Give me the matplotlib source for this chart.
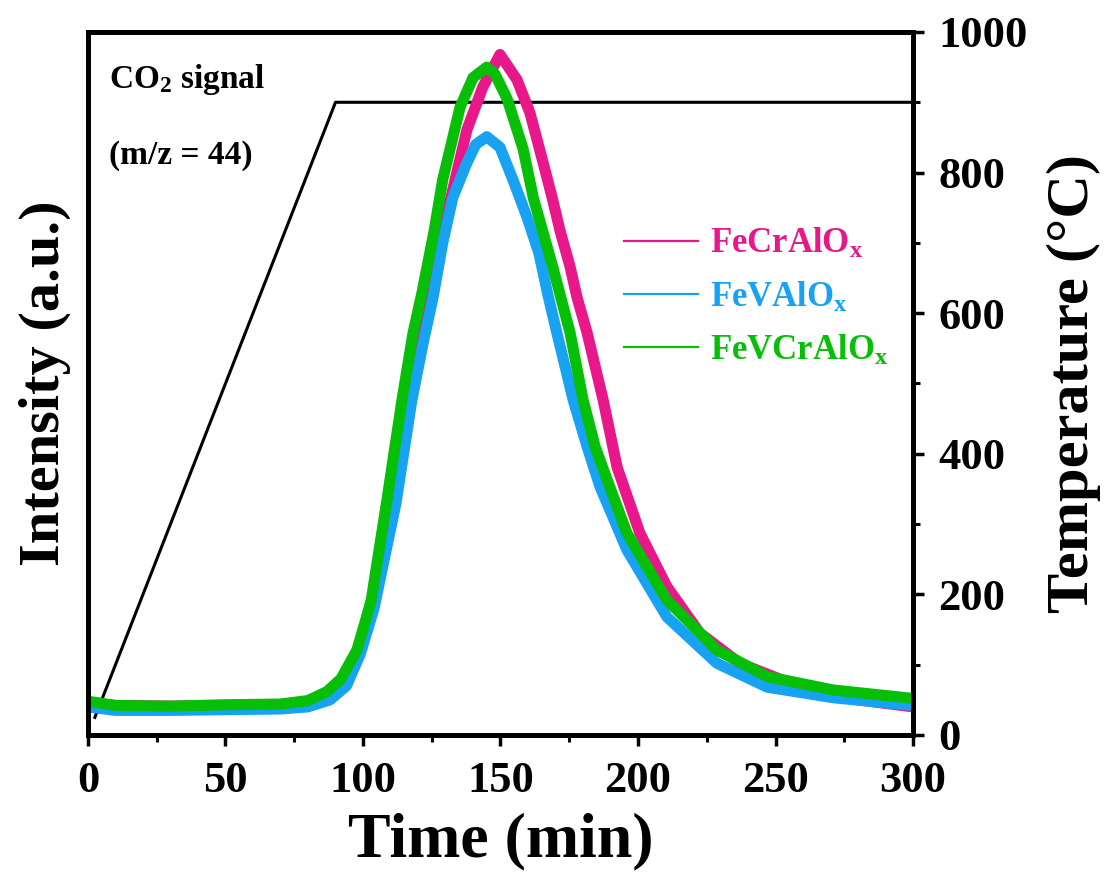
import matplotlib
matplotlib.use("Agg")
import matplotlib.pyplot as plt
from matplotlib.lines import Line2D
from matplotlib.ticker import MultipleLocator, NullLocator

plt.rcParams['font.family'] = ['Liberation Serif', 'DejaVu Serif']
plt.rcParams['font.weight'] = 'bold'
plt.rcParams['mathtext.fontset'] = 'custom'
plt.rcParams['mathtext.rm'] = 'Liberation Serif:bold'
plt.rcParams['mathtext.bf'] = 'Liberation Serif:bold'
plt.rcParams['mathtext.it'] = 'Liberation Serif:bold:italic'

# temperature program
temp_t = [2.5, 90, 300]
temp_v = [25, 900, 900]

# CO2 signal (arbitrary units)
fecr_t = [0, 10, 30, 50, 70, 80, 88, 93, 99, 102.5, 104.5, 110.5, 116, 120, 124.4, 128, 132,
          137.8, 143.6, 149.8, 156, 160.7, 165.5, 169, 171.6, 175.3, 177.8, 181.5, 187.3,
          192.4, 200.7, 210.5, 222.5, 237, 259, 280, 300]
fecr_v = [46, 42, 41, 42, 43, 47, 60, 78, 121, 164, 192, 334, 477, 565, 640, 710, 765,
          861, 922, 968, 932, 885, 814, 761, 718, 666, 623, 572, 477,
          381, 287, 211, 145, 102, 68, 50, 40]

fev_t = [0, 10, 30, 50, 70, 80, 88, 94, 99, 104, 112, 117.8, 122, 125.5, 129, 132.7, 137.8,
         141, 145, 149.8, 154.5, 159.6, 164, 167, 170.5, 176.4, 181.5, 186.2, 196, 210.5,
         228.7, 247, 271, 300]
fev_v = [40, 35, 35, 36, 37, 40, 50, 70, 115, 180, 330, 477, 560, 623, 700, 765, 814,
         840, 851, 836, 790, 737, 685, 630, 572, 477, 410, 353, 263, 168,
         102, 68, 53, 42]

fevcr_t = [0, 10, 30, 50, 70, 80, 87, 92, 97.8, 101, 103, 108.7, 114.2, 118.2, 121.5, 126,
           129, 135.3, 140, 145, 148, 152.4, 158.2, 162, 169, 175.3, 180, 184.4, 190, 196,
           210.5, 228.7, 247, 271, 300]
fevcr_v = [48, 42, 41, 43, 44, 49, 62, 80, 121, 164, 192, 334, 477, 572, 630, 720,
           790, 893, 935, 950, 940, 905, 834, 763, 666, 572, 477, 410, 350, 287,
           192, 121, 83, 64, 52]

names = ['FeCrAlO$_\\mathrm{x}$', 'FeVAlO$_\\mathrm{x}$', 'FeVCrAlO$_\\mathrm{x}$']
colors = ['#E8178A', '#17A2F2', '#06BF06']

fig = plt.figure(figsize=(11.04, 8.96), dpi=100)
ax = fig.add_axes([0.0797, 0.1797, 0.7473, 0.7846])
ax2 = ax.twinx()

# temperature on the right-hand axis
ax.plot(temp_t, temp_v, color='black', lw=2.2)
ax.set_xlim(0, 300)
ax.set_ylim(0, 1000)
ax.yaxis.tick_right()
ax.yaxis.set_label_position('right')
ax.set_ylabel('Temperature (\u00b0C)', fontsize=43.5, fontweight='bold', labelpad=14)
ax.set_xlabel('Time (min)', fontsize=46, fontweight='bold', labelpad=8)
ax.xaxis.set_major_locator(MultipleLocator(50))
ax.xaxis.set_minor_locator(MultipleLocator(25))
ax.yaxis.set_major_locator(MultipleLocator(200))
ax.yaxis.set_minor_locator(MultipleLocator(100))
ax.tick_params(which='major', direction='out', length=8, width=2.5, labelsize=32)
ax.tick_params(axis='x', which='major', pad=11)
ax.tick_params(axis='y', which='major', pad=10)
ax.tick_params(which='minor', direction='out', length=5, width=2.2)
for lab in ax.get_xticklabels() + ax.get_yticklabels():
    lab.set_fontweight('bold')
for sp in ax.spines.values():
    sp.set_linewidth(3.5)

# intensity on the twin axis (no ticks)
ax2.yaxis.tick_left()
ax2.yaxis.set_label_position('left')
ax2.plot(fecr_t, fecr_v, color=colors[0], lw=8, solid_capstyle='butt')
ax2.plot(fev_t, fev_v, color=colors[1], lw=8, solid_capstyle='butt')
ax2.plot(fevcr_t, fevcr_v, color=colors[2], lw=8, solid_capstyle='butt')
ax2.set_xlim(0, 300)
ax2.set_ylim(0, 1000)
ax2.yaxis.set_major_locator(NullLocator())
ax2.yaxis.set_minor_locator(NullLocator())
ax2.set_ylabel('Intensity (a.u.)', fontsize=42, fontweight='bold', labelpad=12)
for sp in ax2.spines.values():
    sp.set_linewidth(3.5)

handles = [Line2D([], [], color=c, lw=1.6) for c in colors]
leg = ax2.legend(handles, names, loc='upper right', bbox_to_anchor=(1.0, 0.757),
                 frameon=False, fontsize=25, handlelength=2.15, handletextpad=0.35,
                 labelspacing=0.55, borderaxespad=0.3)
for txt, c in zip(leg.get_texts(), colors):
    txt.set_color(c)
    txt.set_fontweight('bold')

ax2.text(0.025, 0.932, 'CO$_\\mathrm{2}$ signal', transform=ax2.transAxes,
         fontsize=24, fontweight='bold', va='center', ha='left')
ax2.text(0.025, 0.825, '(m/z = 44)', transform=ax2.transAxes,
         fontsize=24, fontweight='bold', va='center', ha='left')

fig.savefig('out.png', dpi=100)
